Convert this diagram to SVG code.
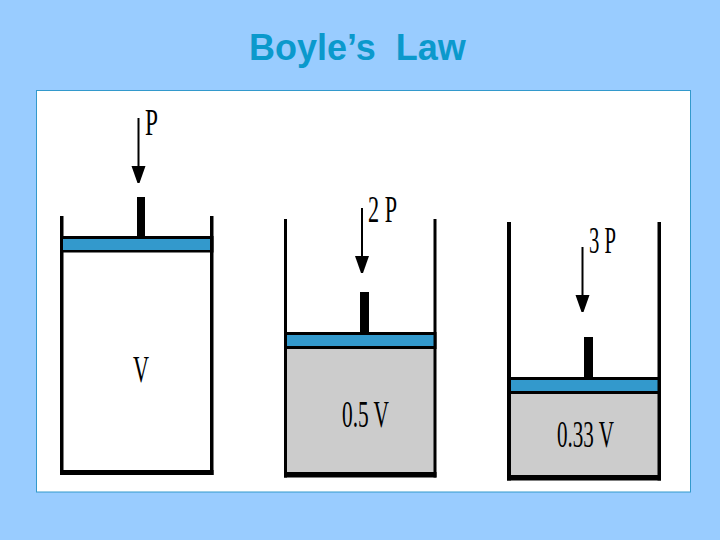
<svg xmlns="http://www.w3.org/2000/svg" width="720" height="540" viewBox="0 0 720 540">
  <style>
    .title { font-family: "Liberation Sans", Arial, sans-serif; font-weight: 700; font-size: 36px; fill: #0b99cc; white-space: pre; }
    .lbl { font-family: "Liberation Serif", "Times New Roman", serif; font-size: 37px; fill: #000; }
    .wall { fill: #000; }
    .gas { fill: #cccccc; }
    .blue { fill: #3399cc; }
    .arrow { stroke: #000; stroke-width: 2; fill: none; marker-end: url(#head); }
  </style>
  <defs>
    <marker id="head" markerUnits="userSpaceOnUse" markerWidth="18" markerHeight="14" refX="0" refY="0" orient="auto" viewBox="0 -7 18 14" overflow="visible">
      <path d="M0,-7 L17,-1 L17,1 L0,7 Z" fill="#000"/>
    </marker>
  </defs>
  <rect width="720" height="540" fill="#99ccff"/>
  <rect id="panel" x="36.500" y="90.500" width="654" height="401.500" fill="#fff" stroke="#3399cc" stroke-width="1"/>
  <text class="title" x="249" y="60">Boyle’s  Law</text>

  <g id="cylinder-1">
    <rect class="wall" x="60" y="216" width="3.500" height="259"/>
    <rect class="wall" x="210" y="216" width="3.500" height="259"/>
    <rect class="wall" x="60" y="470" width="153.500" height="5"/>
    <rect class="wall" x="60" y="236" width="153.500" height="16.500"/>
    <rect class="blue" x="63" y="239" width="147" height="11"/>
    <rect class="wall" x="137" y="197" width="8" height="40"/>
    <text class="lbl" x="145" y="135" textLength="13" lengthAdjust="spacingAndGlyphs">P</text>
    <text class="lbl" x="133" y="382" textLength="16" lengthAdjust="spacingAndGlyphs">V</text>
  </g>

  <g id="cylinder-2">
    <rect class="gas" x="287" y="349" width="147" height="123"/>
    <rect class="wall" x="284" y="219" width="3" height="258.500"/>
    <rect class="wall" x="433.500" y="219" width="3" height="258.500"/>
    <rect class="wall" x="284" y="472" width="152.500" height="5.500"/>
    <rect class="wall" x="284" y="332" width="152.500" height="17"/>
    <rect class="blue" x="287" y="335" width="146.500" height="11"/>
    <rect class="wall" x="360" y="292" width="9" height="41"/>
    <text class="lbl" x="368" y="222" textLength="29" lengthAdjust="spacingAndGlyphs">2 P</text>
    <text class="lbl" x="342" y="427" textLength="47" lengthAdjust="spacingAndGlyphs">0.5 V</text>
  </g>

  <g id="cylinder-3">
    <rect class="gas" x="511" y="394" width="147" height="81"/>
    <rect class="wall" x="507" y="222" width="4" height="258.500"/>
    <rect class="wall" x="657.500" y="222" width="3.500" height="258.500"/>
    <rect class="wall" x="507" y="475" width="154" height="5.500"/>
    <rect class="wall" x="507" y="377" width="154" height="17"/>
    <rect class="blue" x="511" y="380" width="146.500" height="11"/>
    <rect class="wall" x="584" y="337" width="9" height="41"/>
    <text class="lbl" x="589" y="253" textLength="27" lengthAdjust="spacingAndGlyphs">3 P</text>
    <text class="lbl" x="557" y="447" textLength="57" lengthAdjust="spacingAndGlyphs">0.33 V</text>
  </g>

  <g id="connectors">
    <line class="arrow" x1="138.500" y1="118" x2="138.500" y2="166"/>
    <line class="arrow" x1="362" y1="208" x2="362" y2="256"/>
    <line class="arrow" x1="582.500" y1="247" x2="582.500" y2="295"/>
  </g>
</svg>
